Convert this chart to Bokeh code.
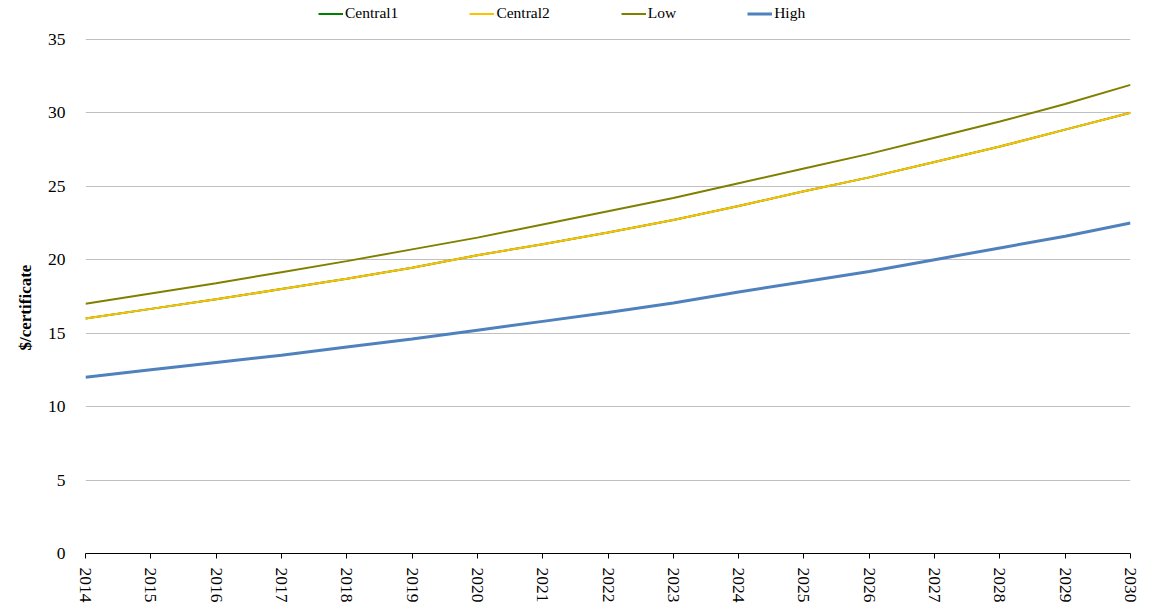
from bokeh.plotting import figure
from bokeh.models import Legend, LegendItem, FixedTicker, Range1d, Title
from bokeh.embed import file_html
from bokeh.resources import INLINE
import math

years = list(range(2014, 2031))
central1 = [16.0, 16.65, 17.3, 18.0, 18.7, 19.45, 20.3, 21.05, 21.85, 22.7, 23.65, 24.65, 25.6, 26.65, 27.7, 28.85, 30.0]
central2 = [16.0, 16.65, 17.3, 18.0, 18.7, 19.45, 20.3, 21.05, 21.85, 22.7, 23.65, 24.65, 25.6, 26.65, 27.7, 28.85, 30.0]
low = [17.0, 17.7, 18.4, 19.15, 19.9, 20.7, 21.5, 22.4, 23.3, 24.2, 25.2, 26.2, 27.2, 28.3, 29.4, 30.6, 31.9]
high = [12.0, 12.5, 13.0, 13.5, 14.05, 14.6, 15.2, 15.8, 16.4, 17.05, 17.8, 18.5, 19.2, 20.0, 20.8, 21.6, 22.5]
y_ticks = [0, 5, 10, 15, 20, 25, 30, 35]

FONT = "Liberation Serif"

p = figure(width=1152, height=607, output_backend="svg", toolbar_location=None,
           x_range=Range1d(2014, 2030), y_range=Range1d(0, 37.3),
           min_border_left=85, min_border_right=22, min_border_top=5, min_border_bottom=54)
p.outline_line_color = None
p.background_fill_color = "white"

r1 = p.line(years, central1, line_color="#008000", line_width=2)
r2 = p.line(years, central2, line_color="#FFC000", line_width=2)
r3 = p.line(years, low, line_color="#808000", line_width=2)
r4 = p.line(years, high, line_color="#4F81BD", line_width=3)

p.xaxis.ticker = FixedTicker(ticks=years)
p.yaxis.ticker = FixedTicker(ticks=y_ticks)
p.xaxis.major_label_orientation = -math.pi / 2
p.xaxis.major_label_text_font = FONT
p.xaxis.major_label_text_font_size = "17.5px"
p.xaxis.major_label_text_color = "black"
p.xaxis.axis_line_color = "black"
p.xaxis.major_tick_line_color = "black"
p.xaxis.major_tick_out = 5
p.xaxis.major_tick_in = 0
p.xaxis.minor_tick_line_color = None
p.xaxis.major_label_standoff = 9

p.yaxis.axis_line_color = None
p.yaxis.major_tick_line_color = None
p.yaxis.minor_tick_line_color = None
p.yaxis.major_label_text_font = FONT
p.yaxis.major_label_text_font_size = "17.5px"
p.yaxis.major_label_text_color = "black"
p.yaxis.major_label_standoff = 14

ytitle = Title(text="$/certificate", align="left", offset=203,
               text_font=FONT, text_font_size="17px", text_font_style="bold",
               text_color="black", standoff=19)
p.add_layout(ytitle, "left")

p.xgrid.grid_line_color = None
p.ygrid.grid_line_color = "#C0C0C0"
p.ygrid.grid_line_width = 1

legend = Legend(items=[LegendItem(label="Central1", renderers=[r1]),
                       LegendItem(label="Central2", renderers=[r2]),
                       LegendItem(label="Low", renderers=[r3]),
                       LegendItem(label="High", renderers=[r4])],
                orientation="horizontal", location=(233, 531))
legend.label_text_font = FONT
legend.label_text_font_size = "15.5px"
legend.label_text_color = "black"
legend.glyph_width = 25
legend.label_standoff = 2
legend.spacing = 71
legend.border_line_color = None
legend.background_fill_alpha = 0
legend.padding = 0
legend.margin = 0
legend.label_height = 15
legend.glyph_height = 15
p.add_layout(legend)

open("out.html", "w").write(file_html(p, INLINE))
